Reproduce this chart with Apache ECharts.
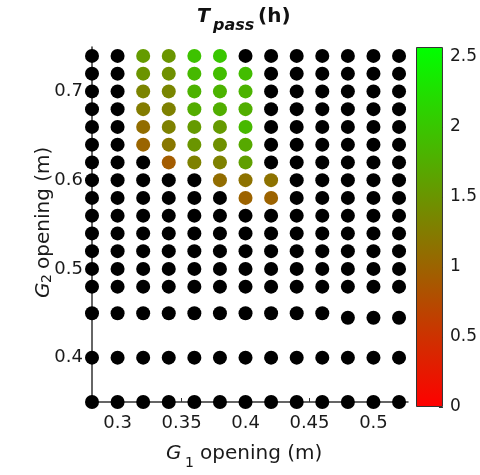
<!DOCTYPE html>
<html>
<head>
<meta charset="utf-8">
<script src="https://cdn.jsdelivr.net/npm/echarts@6/dist/echarts.min.js"></script>
<style>html,body{margin:0;padding:0;background:#fff}#c{width:480px;height:475px}</style>
</head>
<body>
<div id="c"></div>
<script>
// G1 opening columns (m)
const g1Cols = [0.28, 0.30, 0.32, 0.34, 0.36, 0.38, 0.40, 0.42, 0.44, 0.46, 0.48, 0.50, 0.52];
// G2 opening rows (m)
const g2Rows = [0.74, 0.72, 0.70, 0.68, 0.66, 0.64, 0.62, 0.60, 0.58, 0.56, 0.54, 0.52, 0.50, 0.48, 0.45, 0.40, 0.35];
// Row 0.45 only has the first ten columns; the last three sit slightly lower
const row045Cols = [0.28, 0.30, 0.32, 0.34, 0.36, 0.38, 0.40, 0.42, 0.44, 0.46];
const lowPoints = [[0.48, 0.445], [0.50, 0.445], [0.52, 0.445]];
// Points with a T_pass value (h): [G1, G2, T]
const tpassPoints = [
  [0.32, 0.74, 1.56], [0.34, 0.74, 1.50], [0.36, 0.74, 1.96], [0.38, 0.74, 2.00],
  [0.32, 0.72, 1.49], [0.34, 0.72, 1.45], [0.36, 0.72, 1.86], [0.38, 0.72, 1.90], [0.40, 0.72, 1.90],
  [0.32, 0.70, 1.33], [0.34, 0.70, 1.35], [0.36, 0.70, 1.79], [0.38, 0.70, 1.80], [0.40, 0.70, 1.80],
  [0.32, 0.68, 1.25], [0.34, 0.68, 1.30], [0.36, 0.68, 1.73], [0.38, 0.68, 1.75], [0.40, 0.68, 1.75],
  [0.32, 0.66, 1.10], [0.34, 0.66, 1.30], [0.36, 0.66, 1.55], [0.38, 0.66, 1.55], [0.40, 0.66, 1.85],
  [0.32, 0.64, 1.02], [0.34, 0.64, 1.20], [0.36, 0.64, 1.50], [0.38, 0.64, 1.45], [0.40, 0.64, 1.70],
  [0.34, 0.62, 0.93], [0.36, 0.62, 1.30], [0.38, 0.62, 1.30], [0.40, 0.62, 1.60],
  [0.38, 0.60, 1.10], [0.40, 0.60, 1.15], [0.42, 0.60, 1.15],
  [0.40, 0.58, 1.00], [0.42, 0.58, 1.00]
];
const xTicks = [0.3, 0.35, 0.4, 0.45, 0.5];
const yTicks = [0.4, 0.5, 0.6, 0.7];
const cbTicks = [0, 0.5, 1, 1.5, 2, 2.5];
const cbMax = 2.57;

const has = (x, y) => tpassPoints.some(p => Math.abs(p[0] - x) < 1e-9 && Math.abs(p[1] - y) < 1e-9);
const blackPoints = [];
g2Rows.forEach(y => {
  const cols = (y === 0.45) ? row045Cols : g1Cols;
  cols.forEach(x => { if (!has(x, y)) blackPoints.push([x, y]); });
});
lowPoints.forEach(p => blackPoints.push(p));

const FONT = 'DejaVu Sans';
const chart = echarts.init(document.getElementById('c'), null, {renderer: 'canvas'});
const fmt = v => String(Math.round(v * 100) / 100);
chart.setOption({
  backgroundColor: '#fff',
  animation: false,
  grid: [
    {left: 92, right: 72, top: 47, bottom: 73},
    {left: 416, width: 30, top: 47, bottom: 68}
  ],
  xAxis: [
    {type: 'value', gridIndex: 0, min: 0.28, max: 0.527,
     axisLine: {show: true, onZero: false, lineStyle: {color: '#333', width: 1.5}},
     axisTick: {show: true, inside: true, length: 4, customValues: xTicks, lineStyle: {color: '#333'}},
     axisLabel: {customValues: xTicks, formatter: fmt, fontFamily: FONT, fontSize: 18, color: '#1a1a1a', margin: 12},
     splitLine: {show: false}},
    {type: 'category', gridIndex: 1, data: [''], show: false}
  ],
  yAxis: [
    {type: 'value', gridIndex: 0, min: 0.35, max: 0.75,
     axisLine: {show: true, onZero: false, lineStyle: {color: '#333', width: 1.5}},
     axisTick: {show: false},
     axisLabel: {customValues: yTicks, formatter: fmt, fontFamily: FONT, fontSize: 18, color: '#1a1a1a', margin: 9},
     splitLine: {show: false}},
    {type: 'value', gridIndex: 1, min: 0, max: cbMax, position: 'right',
     axisLine: {show: false},
     axisTick: {show: true, inside: true, length: 4, customValues: cbTicks, lineStyle: {color: '#333'}},
     axisLabel: {customValues: cbTicks, formatter: fmt, fontFamily: FONT, fontSize: 17, color: '#1a1a1a', margin: 7},
     splitLine: {show: false}}
  ],
  visualMap: {
    show: false, type: 'continuous', seriesIndex: 1, dimension: 2,
    min: 0, max: cbMax, inRange: {color: ['#ff0000', '#00ff00']}
  },
  series: [
    {type: 'scatter', xAxisIndex: 0, yAxisIndex: 0, data: blackPoints, symbolSize: 14,
     itemStyle: {color: '#000', opacity: 1}, silent: true},
    {type: 'scatter', xAxisIndex: 0, yAxisIndex: 0, data: tpassPoints, symbolSize: 14,
     itemStyle: {opacity: 1}, silent: true},
    {type: 'bar', xAxisIndex: 1, yAxisIndex: 1, data: [cbMax], barWidth: '100%', silent: true,
     itemStyle: {
       color: new echarts.graphic.LinearGradient(0, 0, 0, 1, [
         {offset: 0, color: '#00ff00'}, {offset: 1, color: '#ff0000'}
       ]),
       borderColor: '#333', borderWidth: 1
     }}
  ],
  graphic: [
    {type: 'text', left: 197, top: 8, style: {text: 'T', font: 'italic bold 19px ' + FONT, fill: '#111'}},
    {type: 'text', left: 213, top: 18, style: {text: 'pass', font: 'italic bold 16px ' + FONT, fill: '#111'}},
    {type: 'text', left: 258, top: 7, style: {text: '(h)', font: 'bold 20px ' + FONT, fill: '#111'}},
    {type: 'text', left: 166, top: 444, style: {text: 'G', font: 'italic 20px ' + FONT, fill: '#1a1a1a'}},
    {type: 'text', left: 185, top: 456, style: {text: '1', font: '14px ' + FONT, fill: '#1a1a1a'}},
    {type: 'text', left: 200, top: 444, style: {text: 'opening (m)', font: '20px ' + FONT, fill: '#1a1a1a'}},
    {type: 'group', x: 34, y: 298, rotation: Math.PI / 2, children: [
      {type: 'text', x: 0, y: 0, style: {text: 'G', font: 'italic 20px ' + FONT, fill: '#1a1a1a', textBaseline: 'alphabetic'}},
      {type: 'text', x: 15, y: 6, style: {text: '2', font: '14px ' + FONT, fill: '#1a1a1a', textBaseline: 'alphabetic'}},
      {type: 'text', x: 29, y: 0, style: {text: 'opening (m)', font: '20px ' + FONT, fill: '#1a1a1a', textBaseline: 'alphabetic'}}
    ]}
  ]
});
</script>
</body>
</html>
